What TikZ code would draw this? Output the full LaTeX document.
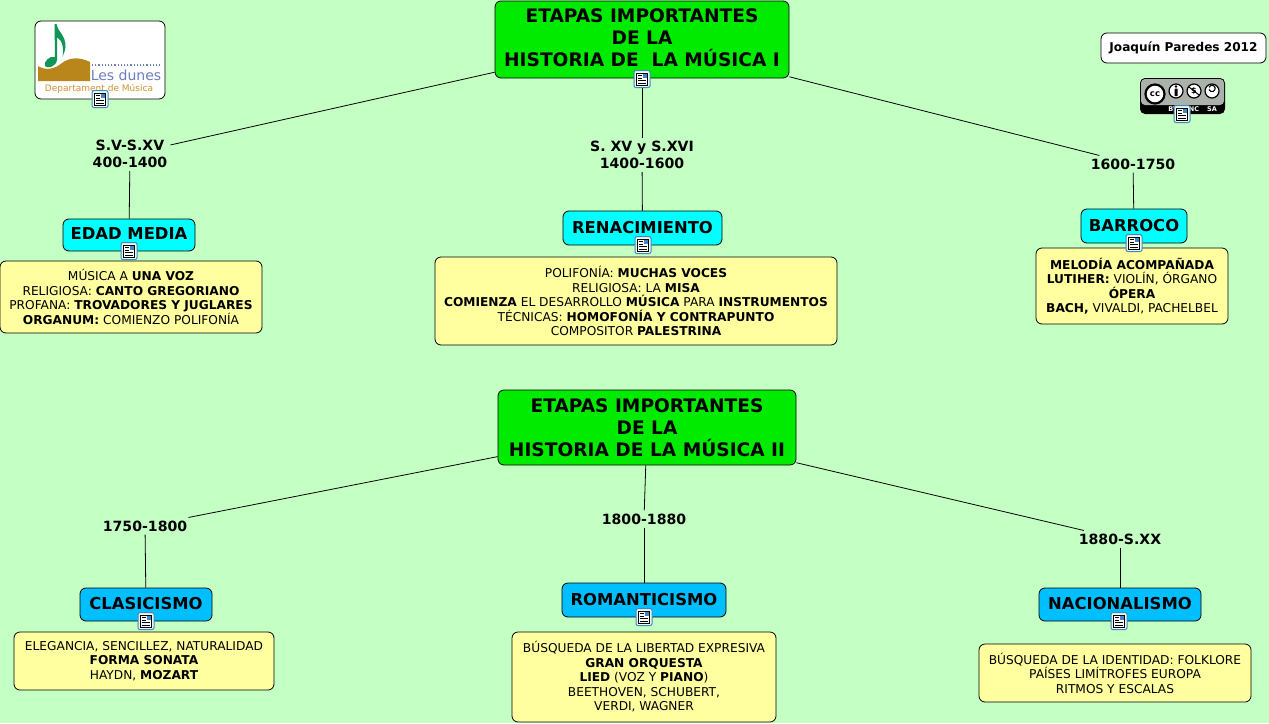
\documentclass[tikz,border=0pt]{standalone}
\usepackage{fontspec}
\setmainfont{DejaVu Sans}
\definecolor{mback}{RGB}{196, 255, 196}
\definecolor{mgreen}{RGB}{0, 235, 0}
\definecolor{mcyan}{RGB}{0, 255, 255}
\definecolor{msky}{RGB}{0, 191, 255}
\definecolor{myellow}{RGB}{255, 255, 160}
\definecolor{mnote}{RGB}{15, 150, 85}
\definecolor{mhill}{RGB}{184, 134, 27}
\definecolor{mdunes}{RGB}{110, 125, 190}
\definecolor{morange}{RGB}{214, 145, 50}
\definecolor{mframe}{RGB}{70, 130, 200}
\definecolor{mbadge}{RGB}{170, 178, 171}
\tikzset{basebox/.style = {draw, rounded corners = 6, inner sep = 0, align = center, line width = 0.8}}
\tikzset{rootbox/.style = {basebox, fill = mgreen, font = \fontsize{18.6}{22}\selectfont\bfseries}}
\tikzset{periodbox/.style = {basebox, text depth = 2, font = \fontsize{16.4}{16}\selectfont\bfseries}}
\tikzset{notebox/.style = {basebox, fill = myellow, font = \fontsize{12.2}{14.5}\selectfont}}
\tikzset{datelabel/.style = {align = center, inner sep = 3, font = \fontsize{14.1}{17}\selectfont\bfseries}}
\tikzset{link/.style = {line width = 0.8}}
\begin{document}
\begin{tikzpicture}[x=1pt, y=-1pt]
    \useasboundingbox [fill=mback] (0, 0) rectangle (1269, 723);

    \node [rootbox, text depth = 4, minimum width = 294, minimum height = 77] (rootone) at (642, 39.5) {ETAPAS IMPORTANTES\\DE LA\\HISTORIA DE\ \ LA MÚSICA I};
    \node [rootbox, minimum width = 298, minimum height = 75] (roottwo) at (647, 427.5) {ETAPAS IMPORTANTES\\DE LA\\HISTORIA DE LA MÚSICA II};

    \node [datelabel] (datemedia) at (130, 154) {S.V-S.XV\\400-1400};
    \node [datelabel] (daterenac) at (642, 155) {S. XV y S.XVI\\1400-1600};
    \node [datelabel] (datebarroco) at (1133, 164) {1600-1750};
    \node [datelabel] (dateclasic) at (145, 526) {1750-1800};
    \node [datelabel] (dateromant) at (644, 519) {1800-1880};
    \node [datelabel] (datenacion) at (1120, 539) {1880-S.XX};

    \node [periodbox, fill = mcyan, minimum width = 132, minimum height = 32] (media) at (129, 235) {EDAD MEDIA};
    \node [periodbox, fill = mcyan, minimum width = 159, minimum height = 34] (renac) at (642.5, 228) {RENACIMIENTO};
    \node [periodbox, fill = mcyan, minimum width = 106, minimum height = 34] (barroco) at (1134, 226) {BARROCO};
    \node [periodbox, fill = msky, minimum width = 132, minimum height = 33] (clasic) at (146, 604.5) {CLASICISMO};
    \node [periodbox, fill = msky, minimum width = 164, minimum height = 34] (romant) at (644, 600) {ROMANTICISMO};
    \node [periodbox, fill = msky, minimum width = 162, minimum height = 33] (nacion) at (1120, 604.5) {NACIONALISMO};

    \node [notebox, minimum width = 262, minimum height = 72] (notemedia) at (131, 297) {MÚSICA A \textbf{UNA VOZ}\\RELIGIOSA: \textbf{CANTO GREGORIANO}\\PROFANA: \textbf{TROVADORES Y JUGLARES}\\\textbf{ORGANUM:} COMIENZO POLIFONÍA};
    \node [notebox, minimum width = 402, minimum height = 88] (noterenac) at (636, 301) {POLIFONÍA: \textbf{MUCHAS VOCES}\\RELIGIOSA: LA \textbf{MISA}\\\textbf{COMIENZA} EL DESARROLLO \textbf{MÚSICA} PARA \textbf{INSTRUMENTOS}\\TÉCNICAS: \textbf{HOMOFONÍA Y CONTRAPUNTO}\\COMPOSITOR \textbf{PALESTRINA}};
    \node [notebox, minimum width = 192, minimum height = 76] (notebarroco) at (1132, 286) {\textbf{MELODÍA ACOMPAÑADA}\\\textbf{LUTIHER:} VIOLÍN, ÓRGANO\\\textbf{ÓPERA}\\\textbf{BACH,} VIVALDI, PACHELBEL};
    \node [notebox, minimum width = 260, minimum height = 58] (noteclasic) at (144, 661) {ELEGANCIA, SENCILLEZ, NATURALIDAD\\\textbf{FORMA SONATA}\\HAYDN, \textbf{MOZART}};
    \node [notebox, minimum width = 264, minimum height = 90] (noteromant) at (644, 677) {BÚSQUEDA DE LA LIBERTAD EXPRESIVA\\\textbf{GRAN ORQUESTA}\\\textbf{LIED} (VOZ Y \textbf{PIANO})\\BEETHOVEN, SCHUBERT,\\VERDI, WAGNER};
    \node [notebox, minimum width = 272, minimum height = 58] (notenacion) at (1115, 673) {BÚSQUEDA DE LA IDENTIDAD: FOLKLORE\\PAÍSES LIMÍTROFES EUROPA\\RITMOS Y ESCALAS};

    \draw [link] (rootone) -- (datemedia);
    \draw [link] (rootone) -- (daterenac);
    \draw [link] (rootone) -- (datebarroco);
    \draw [link] (roottwo) -- (dateclasic);
    \draw [link] (roottwo) -- (dateromant);
    \draw [link] (roottwo) -- (datenacion);
    \draw [link] (datemedia) -- (media);
    \draw [link] (daterenac) -- (renac);
    \draw [link] (datebarroco) -- (barroco);
    \draw [link] (dateclasic) -- (clasic);
    \draw [link] (dateromant) -- (romant);
    \draw [link] (datenacion) -- (nacion);

    \node [basebox, fill = white, minimum width = 130, minimum height = 78] (logo) at (100, 60) {};
    \fill [mnote] (54.5, 24) -- (56.5, 24) .. controls (57, 31) and (66, 35) .. (65.5, 47) .. controls (65, 52) and (63, 55) .. (62.5, 57) .. controls (64, 50) and (63, 41) .. (57, 37) -- (57, 60) .. controls (56, 67) and (47, 69) .. (45, 66) .. controls (43, 62) and (50, 55) .. (55, 57) -- cycle;
    \fill [mhill] (38, 66) .. controls (46, 71) and (55, 69) .. (62, 63) .. controls (70, 57) and (80, 57) .. (90, 62) -- (90, 81) -- (38, 81) -- cycle;
    \draw [mdunes, line width = 1.2, dotted] (92, 65) -- (160, 65);
    \node [text = mdunes, inner sep = 0, font = \fontsize{14}{14}\selectfont] (logodunes) at (126, 75) {Les dunes};
    \node [text = morange, inner sep = 0, font = \fontsize{9}{9}\selectfont] (logodept) at (99, 89) {Departament de Música};

    \node [basebox, fill = white, minimum width = 165, minimum height = 30, font = \fontsize{12.1}{12}\selectfont\bfseries] (author) at (1183.5, 48) {Joaquín Paredes 2012};

    \fill [black, rounded corners = 5] (1140, 78) rectangle (1225, 114);
    \fill [mbadge, rounded corners = 4] (1141, 79) rectangle (1224, 105);
    \node [draw, circle, line width = 2.2, fill = white, minimum size = 19, inner sep = 0, font = \fontsize{8.5}{8.5}\selectfont\bfseries] (badgecc) at (1155, 94) {cc};
    \node [draw, circle, line width = 1.2, fill = white, minimum size = 14, inner sep = 0] (badgeby) at (1176, 91) {};
    \node [draw, circle, line width = 1.2, fill = white, minimum size = 14, inner sep = 0, font = \fontsize{8}{8}\selectfont\bfseries] (badgenc) at (1194, 91) {\$};
    \node [draw, circle, line width = 1.2, fill = white, minimum size = 14, inner sep = 0] (badgesa) at (1212, 91) {};
    \fill (1176, 86.5) circle (1.3);
    \fill [rounded corners = 0.5] (1174.5, 88.5) rectangle (1177.5, 96);
    \draw [line width = 1] (1189, 87) -- (1199, 95);
    \draw [line width = 1.1] (1209, 89.5) arc (160 : -160 : 3.2);
    \node [text = white, inner sep = 0, font = \fontsize{6.5}{6.5}\selectfont\bfseries] (badgelabelby) at (1173, 109) {BY};
    \node [text = white, inner sep = 0, font = \fontsize{6.5}{6.5}\selectfont\bfseries] (badgelabelnc) at (1194, 109) {NC};
    \node [text = white, inner sep = 0, font = \fontsize{6.5}{6.5}\selectfont\bfseries] (badgelabelsa) at (1212, 109) {SA};

    \foreach \ix/\iy in {100/99, 642/79, 1182/114, 129/251, 643/245, 1134/243, 146/621, 644/617, 1119/621} {
        \draw [mframe, fill=mback!40!white, rounded corners = 2, line width = 1] (\ix - 8, \iy - 8.5) rectangle (\ix + 8, \iy + 8.5);
        \draw [fill=white, line width = 0.7] (\ix - 5.5, \iy - 6) rectangle (\ix + 5.5, \iy + 6);
        \fill [mframe] (\ix + 0.5, \iy - 5) rectangle (\ix + 4.5, \iy - 1);
        \draw [line width = 0.6] (\ix - 4, \iy - 3.5) -- (\ix - 0.5, \iy - 3.5);
        \draw [line width = 0.6] (\ix - 4, \iy - 1) -- (\ix - 0.5, \iy - 1);
        \draw [line width = 0.6] (\ix - 4, \iy + 1.5) -- (\ix + 4, \iy + 1.5);
        \draw [line width = 0.6] (\ix - 4, \iy + 4) -- (\ix + 4, \iy + 4);
    }
\end{tikzpicture}
\end{document}
